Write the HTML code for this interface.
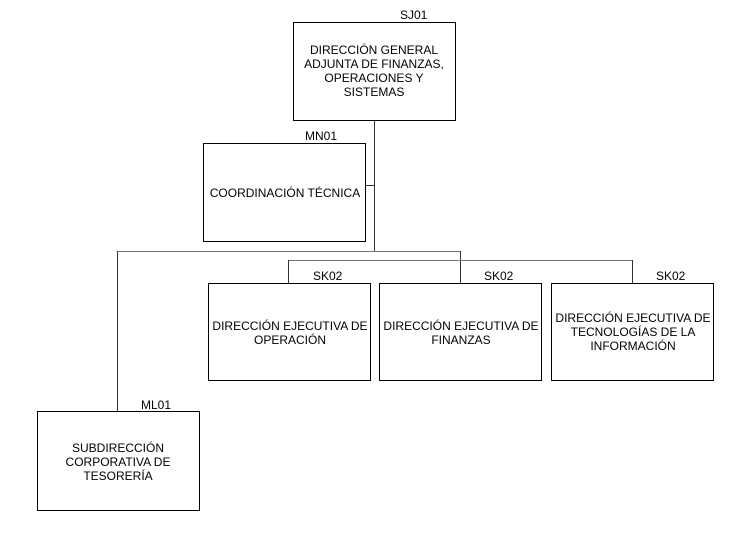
<!DOCTYPE html><html><head><style>body{margin:0;background:#fff;width:734px;height:530px;overflow:hidden}</style></head><body>
<svg width="734" height="530" xmlns="http://www.w3.org/2000/svg" font-family="Liberation Sans, sans-serif" font-size="12" fill="#000">
<g stroke="#333" stroke-width="1" fill="none">
<line x1="374.5" y1="120" x2="374.5" y2="251"/>
<line x1="366" y1="185.5" x2="374.5" y2="185.5"/>
<line x1="117.5" y1="251.5" x2="460.5" y2="251.5" stroke="#777"/>
<line x1="117.5" y1="251" x2="117.5" y2="411"/>
<line x1="460.5" y1="251" x2="460.5" y2="283"/>
<line x1="288.5" y1="260.5" x2="632.5" y2="260.5" stroke="#777"/>
<line x1="288.5" y1="260" x2="288.5" y2="283"/>
<line x1="632.5" y1="260" x2="632.5" y2="283"/>
</g>
<g stroke="#000" fill="#fff">
<rect x="293.5" y="22.5" width="162" height="98"/>
<rect x="203.5" y="143.5" width="162" height="98"/>
<rect x="208.5" y="283.5" width="162" height="97"/>
<rect x="379.5" y="283.5" width="162" height="97"/>
<rect x="551.5" y="283.5" width="162" height="97"/>
<rect x="37.5" y="411.5" width="162" height="99"/>
</g>
<text x="400" y="19">SJ01</text>
<text x="305" y="140">MN01</text>
<text x="313" y="280">SK02</text>
<text x="484" y="280">SK02</text>
<text x="656" y="280">SK02</text>
<text x="141" y="409">ML01</text>
<g text-anchor="middle">
<text x="374" y="54">DIRECCIÓN GENERAL</text>
<text x="374" y="68">ADJUNTA DE FINANZAS,</text>
<text x="374" y="82">OPERACIONES Y</text>
<text x="374" y="96">SISTEMAS</text>
<text x="285" y="197">COORDINACIÓN TÉCNICA</text>
<text x="290" y="330">DIRECCIÓN EJECUTIVA DE</text>
<text x="290" y="344">OPERACIÓN</text>
<text x="461" y="330">DIRECCIÓN EJECUTIVA DE</text>
<text x="461" y="344">FINANZAS</text>
<text x="633" y="322">DIRECCIÓN EJECUTIVA DE</text>
<text x="633" y="336">TECNOLOGÍAS DE LA</text>
<text x="633" y="350">INFORMACIÓN</text>
<text x="118" y="452">SUBDIRECCIÓN</text>
<text x="118" y="466">CORPORATIVA DE</text>
<text x="118" y="480">TESORERÍA</text>
</g>
</svg></body></html>
